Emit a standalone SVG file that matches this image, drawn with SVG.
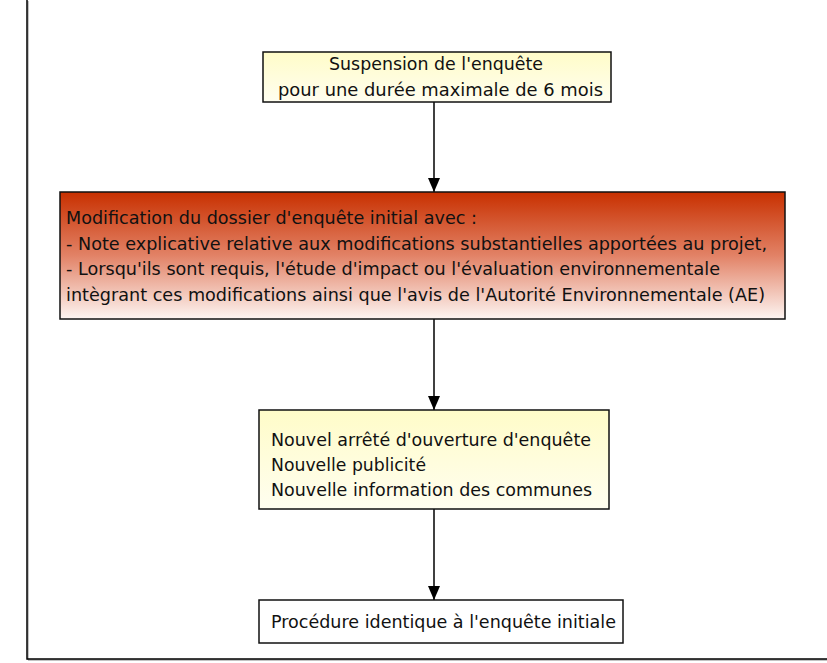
<svg xmlns="http://www.w3.org/2000/svg" width="827" height="663" viewBox="0 0 827 663">
<defs>
<linearGradient id="red" x1="0" y1="0" x2="0" y2="1">
<stop offset="0" stop-color="#c83000"/>
<stop offset="0.5" stop-color="#e28266"/>
<stop offset="1" stop-color="#fdf5f2"/>
</linearGradient>
<linearGradient id="yel" x1="0" y1="0" x2="0" y2="1">
<stop offset="0" stop-color="#fffcc8"/>
<stop offset="1" stop-color="#fffef0"/>
</linearGradient>
<marker id="ah" markerWidth="14" markerHeight="12" refX="14" refY="6" orient="auto" markerUnits="userSpaceOnUse" viewBox="0 0 14 12">
<path d="M0,0 L14,6 L0,12 Z" fill="#000"/>
</marker>
</defs>
<style>
.box{stroke:#111;stroke-width:1.5}
.t{font-family:"DejaVu Sans",Verdana,sans-serif;font-size:17px;fill:#111}
.c{stroke:#000;stroke-width:1.5;fill:none}
</style>
<rect width="827" height="663" fill="#fff"/>
<g id="frame">
<path d="M27,0 V659 H827" fill="none" stroke="#888" stroke-width="1" transform="translate(1,1)"/>
<path d="M27,0 V659 H827" fill="none" stroke="#000" stroke-width="1.5"/>
</g>
<g id="connectors">
<line class="c" x1="434" y1="102" x2="434" y2="192" marker-end="url(#ah)"/>
<line class="c" x1="434" y1="319" x2="434" y2="410" marker-end="url(#ah)"/>
<line class="c" x1="434" y1="509" x2="434" y2="600" marker-end="url(#ah)"/>
</g>
<g id="n1">
<rect class="box" x="263" y="52" width="348" height="50" fill="url(#yel)"/>
<text class="t" x="329" y="70" textLength="214" lengthAdjust="spacingAndGlyphs">Suspension de l'enquête</text>
<text class="t" x="278" y="96" textLength="325" lengthAdjust="spacingAndGlyphs">pour une durée maximale de 6 mois</text>
</g>
<g id="n2">
<rect class="box" x="60" y="192" width="725" height="127" fill="url(#red)"/>
<text class="t" x="66" y="224" textLength="411" lengthAdjust="spacingAndGlyphs">Modification du dossier d'enquête initial avec :</text>
<text class="t" x="66" y="250" textLength="701" lengthAdjust="spacingAndGlyphs">- Note explicative relative aux modifications substantielles apportées au projet,</text>
<text class="t" x="66" y="275" textLength="654" lengthAdjust="spacingAndGlyphs">- Lorsqu'ils sont requis, l'étude d'impact ou l'évaluation environnementale</text>
<text class="t" x="66" y="301" textLength="699" lengthAdjust="spacingAndGlyphs">intègrant ces modifications ainsi que l'avis de l'Autorité Environnementale (AE)</text>
</g>
<g id="n3">
<rect class="box" x="259" y="410" width="350" height="99" fill="url(#yel)"/>
<text class="t" x="271" y="446" textLength="320" lengthAdjust="spacingAndGlyphs">Nouvel arrêté d'ouverture d'enquête</text>
<text class="t" x="271" y="471" textLength="155" lengthAdjust="spacingAndGlyphs">Nouvelle publicité</text>
<text class="t" x="271" y="496" textLength="321" lengthAdjust="spacingAndGlyphs">Nouvelle information des communes</text>
</g>
<g id="n4">
<rect class="box" x="259" y="600" width="364" height="43" fill="#fff"/>
<text class="t" x="271" y="628" textLength="345" lengthAdjust="spacingAndGlyphs">Procédure identique à l'enquête initiale</text>
</g>
</svg>
